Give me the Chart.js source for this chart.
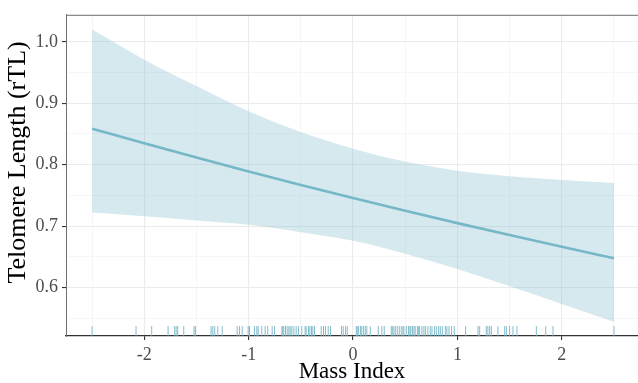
<!DOCTYPE html>
<html>
<head>
<meta charset="utf-8">
<script src="https://cdn.jsdelivr.net/npm/chart.js@4.4.1/dist/chart.umd.min.js"></script>
<style>
  html, body { margin: 0; padding: 0; background: #ffffff; overflow: hidden; }
  #wrap { width: 638px; height: 383px; position: relative; }
</style>
</head>
<body>
<div id="wrap"><canvas id="c" width="638" height="383"></canvas></div>
<script>
// ---- data ----
const massIndex   = [-2.5, -2, -1.5, -1, -0.5, 0, 0.5, 1, 1.5, 2, 2.5];
const fitValues   = [0.8585, 0.8347, 0.8115, 0.789, 0.767, 0.7457, 0.725, 0.7048, 0.6853, 0.6662, 0.6477];
const upperValues = [1.020, 0.971, 0.928, 0.887, 0.853, 0.826, 0.805, 0.790, 0.781, 0.775, 0.770];
const lowerValues = [0.722, 0.716, 0.709, 0.702, 0.690, 0.676, 0.655, 0.630, 0.602, 0.573, 0.544];
const rugValues = [
  -2.5, -2.079, -1.929, -1.772, -1.709, -1.695, -1.680, -1.622, -1.523, -1.510,
  -1.360, -1.344, -1.325, -1.296, -1.254, -1.110, -1.088, -1.062, -1.005, -0.992,
  -0.909, -0.944, -0.922, -0.874, -0.842, -0.817, -0.775, -0.753, -0.682, -0.673,
  -0.663, -0.647, -0.631, -0.615, -0.602, -0.586, -0.567, -0.545, -0.523, -0.491,
  -0.459, -0.449, -0.427, -0.414, -0.398, -0.385, -0.369, -0.305, -0.283, -0.264,
  -0.238, -0.216, -0.110, -0.094, -0.072, -0.056, 0.031, 0.040, 0.053, 0.072,
  0.084, 0.101, 0.117, 0.132, 0.165, 0.242, 0.276, 0.299, 0.366, 0.376,
  0.391, 0.405, 0.424, 0.443, 0.462, 0.478, 0.487, 0.510, 0.532, 0.545,
  0.554, 0.570, 0.583, 0.596, 0.616, 0.628, 0.638, 0.660, 0.679, 0.695,
  0.717, 0.740, 0.756, 0.781, 0.798, 0.820, 0.836, 0.855, 0.884, 0.899,
  0.919, 0.944, 0.970, 1.079, 1.197, 1.213, 1.277, 1.292, 1.309, 1.325,
  1.388, 1.453, 1.469, 1.500, 1.532, 1.570, 1.756, 1.846, 1.916, 2.5
];
const rugLevel = 0.529;
const xTickValues = [-2.5, -2, -1.5, -1, -0.5, 0, 0.5, 1, 1.5, 2, 2.5];
const yTickValues = [0.55, 0.6, 0.65, 0.7, 0.75, 0.8, 0.85, 0.9, 0.95, 1.0];
const xLabel = 'Mass Index';
const yLabel = 'Telomere Length (rTL)';

const lineColor = 'rgb(118,183,200)';
const fillColor = 'rgba(118,183,200,0.3)';
const serif = '"Liberation Serif", "Times New Roman", serif';

const pts = (ys) => massIndex.map((x, i) => ({x: x, y: ys[i]}));
const yMajor = (v) => Math.round(v * 100) % 10 === 0;

const topBorder = {
  id: 'topBorder',
  afterDraw(chart) {
    const a = chart.chartArea, ctx = chart.ctx;
    ctx.save();
    ctx.strokeStyle = '#6e6e6e';
    ctx.lineWidth = 1;
    ctx.beginPath();
    ctx.moveTo(a.left, a.top + 0.5);
    ctx.lineTo(a.right + 2, a.top + 0.5);
    ctx.stroke();
    ctx.restore();
  }
};

new Chart(document.getElementById('c'), {
  type: 'line',
  data: {
    datasets: [
      {
        label: 'lower',
        data: pts(lowerValues),
        borderWidth: 0,
        borderColor: 'rgba(0,0,0,0)',
        pointRadius: 0,
        fill: false,
        cubicInterpolationMode: 'monotone',
        order: 3
      },
      {
        label: 'upper',
        data: pts(upperValues),
        borderWidth: 0,
        borderColor: 'rgba(0,0,0,0)',
        backgroundColor: fillColor,
        pointRadius: 0,
        fill: '-1',
        cubicInterpolationMode: 'monotone',
        order: 2
      },
      {
        label: 'fit',
        data: pts(fitValues),
        borderColor: lineColor,
        borderWidth: 2.6,
        pointRadius: 0,
        fill: false,
        cubicInterpolationMode: 'monotone',
        order: 1
      },
      {
        label: 'rug',
        type: 'scatter',
        data: rugValues.map(v => ({x: v, y: rugLevel})),
        showLine: false,
        pointStyle: 'line',
        rotation: 90,
        pointRadius: 5,
        pointHoverRadius: 5,
        borderColor: 'rgba(110,178,196,0.85)',
        borderWidth: 1,
        order: 0
      }
    ]
  },
  options: {
    responsive: false,
    animation: false,
    events: [],
    layout: { autoPadding: false, padding: { left: 0, right: 0, top: 14, bottom: 0 } },
    plugins: { legend: { display: false }, tooltip: { enabled: false } },
    scales: {
      x: {
        type: 'linear',
        min: -2.75,
        max: 2.73,
        afterBuildTicks: (s) => { s.ticks = xTickValues.map(v => ({value: v})); },
        afterFit: (s) => { s.height = 47; s.paddingRight = 0; s.paddingLeft = 0; },
        grid: {
          color: (ctx) => Number.isInteger(ctx.tick.value) ? '#ebebeb' : '#f4f4f4',
          lineWidth: (ctx) => Number.isInteger(ctx.tick.value) ? 1.1 : 0.8,
          tickColor: (ctx) => Number.isInteger(ctx.tick.value) ? '#333333' : 'rgba(0,0,0,0)',
          tickLength: 4,
          drawOnChartArea: true
        },
        border: { color: '#333333', width: 1.2 },
        ticks: {
          autoSkip: false,
          maxRotation: 0,
          padding: 4,
          color: '#4d4d4d',
          font: { family: serif, size: 18 },
          callback: (v) => Number.isInteger(v) ? String(v) : ''
        },
        title: {
          display: true,
          text: xLabel,
          color: '#000000',
          font: { family: serif, size: 23, lineHeight: 1 },
          padding: { top: -1.5, bottom: 0 }
        }
      },
      y: {
        type: 'linear',
        min: 0.521,
        max: 1.044,
        afterBuildTicks: (s) => { s.ticks = yTickValues.map(v => ({value: v})); },
        afterFit: (s) => { s.width = 66; },
        grid: {
          color: (ctx) => yMajor(ctx.tick.value) ? '#ebebeb' : '#f4f4f4',
          lineWidth: (ctx) => yMajor(ctx.tick.value) ? 1.1 : 0.8,
          tickColor: (ctx) => yMajor(ctx.tick.value) ? '#333333' : 'rgba(0,0,0,0)',
          tickLength: 4
        },
        border: { color: '#6e6e6e', width: 1 },
        ticks: {
          autoSkip: false,
          padding: 4,
          color: '#4d4d4d',
          font: { family: serif, size: 18 },
          callback: (v) => yMajor(v) ? v.toFixed(1) : ''
        },
        title: {
          display: true,
          text: '    ' + yLabel,
          color: '#000000',
          font: { family: serif, size: 26 },
          padding: { top: 3, bottom: 0 }
        }
      }
    }
  },
  plugins: [topBorder]
});
</script>
</body>
</html>
